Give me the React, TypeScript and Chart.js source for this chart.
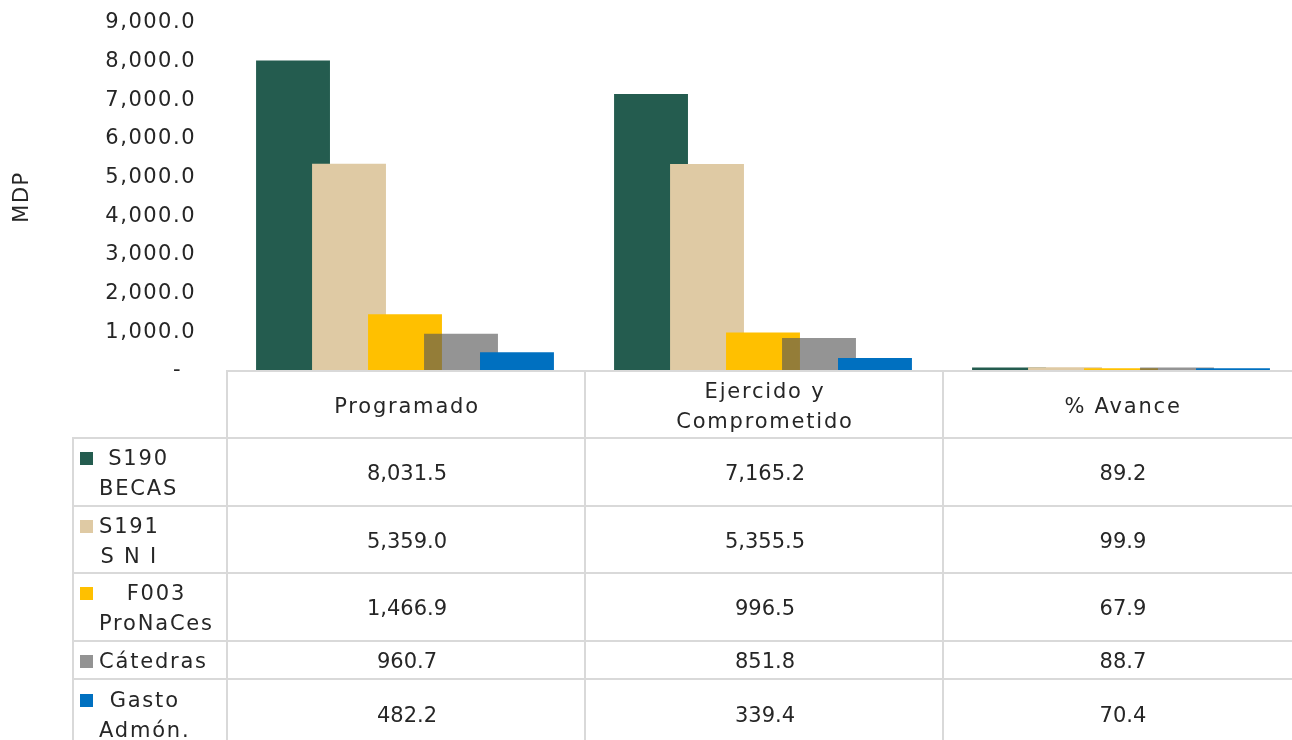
import React, { useEffect, useRef } from "react";
import { Chart, registerables } from "chart.js";

Chart.register(...registerables);

// ---------- data ----------
const categories = ["Programado", "Ejercido y\nComprometido", "% Avance"];
const seriesNames = ["S190\nBECAS", "S191\nS N I", "F003\nProNaCes", "Cátedras", "Gasto\nAdmón."];
const becas = [8031.5, 7165.2, 89.2];
const sni = [5359.0, 5355.5, 99.9];
const pronaces = [1466.9, 996.5, 67.9];
const catedras = [960.7, 851.8, 88.7];
const gasto = [482.2, 339.4, 70.4];
const yMin = 0;
const yMax = 9000;
const yStep = 1000;
const yAxisTitle = "MDP";

// ---------- styles ----------
const seriesValues = [becas, sni, pronaces, catedras, gasto];
const barColors = ["#245C4F", "#DFCAA4", "#FFC000", "rgba(87,87,87,0.64)", "#0070C0"];
const markerColors = ["#245C4F", "#DFCAA4", "#FFC000", "#939393", "#0070C0"];
const FONT = "'DejaVu Sans', sans-serif";
const TEXT_COLOR = "#262626";
const LINE_COLOR = "#D9D9D9";

const PLOT_LEFT = 226;
const CAT_W = 358;
const CANVAS_W = PLOT_LEFT + CAT_W * 3;
const CANVAS_H = 384;
const TABLE_TOP = 370;
const LEGEND_LEFT = 72;
const HEADER_H = 67;
const ROW_H = [68, 67, 68, 38, 70];

const fmt = (v: number) =>
  v.toLocaleString("en-US", { minimumFractionDigits: 1, maximumFractionDigits: 1 });

const drawOrderPlugin = {
  id: "drawOrder",
  beforeDraw(chart: any) {
    chart.ctx.letterSpacing = "1.5px";
  },
  beforeDatasetsDraw(chart: any) {
    for (let i = 0; i < chart.data.datasets.length; i++) {
      const meta = chart.getDatasetMeta(i);
      if (meta.visible !== false) meta.controller.draw();
    }
    return false;
  },
};

function BarChart() {
  const ref = useRef<HTMLCanvasElement | null>(null);
  useEffect(() => {
    if (!ref.current) return;
    const chart = new Chart(ref.current, {
      type: "bar",
      data: {
        labels: categories,
        datasets: seriesValues.map((vals, i) => ({
          label: seriesNames[i].replace("\n", " "),
          data: vals,
          backgroundColor: barColors[i],
          borderWidth: 0,
          barPercentage: 1.32,
          categoryPercentage: 0.782,
        })),
      },
      options: {
        responsive: false,
        maintainAspectRatio: false,
        animation: false,
        events: [],
        layout: { padding: { top: 23, bottom: 13, left: 0, right: 0 } },
        plugins: { legend: { display: false }, tooltip: { enabled: false } },
        scales: {
          x: { display: false, offset: true },
          y: {
            min: yMin,
            max: yMax,
            grid: { display: false, drawTicks: true, tickLength: 30 },
            border: { display: false },
            ticks: {
              stepSize: yStep,
              padding: 0,
              color: TEXT_COLOR,
              font: { family: FONT, size: 21 },
              callback: (v: any) => (Number(v) === 0 ? "- \u2009" : fmt(Number(v))),
            },
            title: {
              display: true,
              text: yAxisTitle,
              color: TEXT_COLOR,
              font: { family: FONT, size: 21 },
              padding: { top: 10, bottom: 0 },
            },
            afterFit: (s: any) => {
              s.width = PLOT_LEFT;
            },
          },
        },
      },
      plugins: [drawOrderPlugin],
    });
    return () => chart.destroy();
  }, []);
  return (
    <canvas
      ref={ref}
      width={CANVAS_W}
      height={CANVAS_H}
      style={{ position: "absolute", left: 0, top: 0, width: CANVAS_W, height: CANVAS_H }}
    />
  );
}

const cellBase: React.CSSProperties = {
  position: "absolute",
  boxSizing: "border-box",
  borderTop: `2px solid ${LINE_COLOR}`,
  borderLeft: `2px solid ${LINE_COLOR}`,
  display: "flex",
  alignItems: "center",
  justifyContent: "center",
  textAlign: "center",
  whiteSpace: "pre-line",
  lineHeight: "30px",
  fontFamily: FONT,
  fontSize: 21,
  color: TEXT_COLOR,
};
const WORD_SPACING = "1.8px";

function DataTable() {
  const cells: React.ReactNode[] = [];
  categories.forEach((c, i) => {
    cells.push(
      <div
        key={"h" + i}
        style={{
          ...cellBase,
          left: PLOT_LEFT + i * CAT_W,
          top: TABLE_TOP,
          width: CAT_W + 2,
          height: HEADER_H + 2,
          letterSpacing: WORD_SPACING,
        }}
      >
        {c}
      </div>
    );
  });
  let top = TABLE_TOP + HEADER_H;
  seriesNames.forEach((name, r) => {
    const h = ROW_H[r];
    const lines = name.split("\n");
    cells.push(
      <div
        key={"l" + r}
        style={{
          ...cellBase,
          left: LEGEND_LEFT,
          top,
          width: PLOT_LEFT - LEGEND_LEFT + 2,
          height: h + 2,
          justifyContent: "flex-start",
          paddingLeft: 6,
          letterSpacing: WORD_SPACING,
        }}
      >
        <div style={{ display: "flex", alignItems: "flex-start" }}>
          <span
            style={{
              display: "inline-block",
              width: 13,
              height: 13,
              marginTop: 9,
              marginRight: 6,
              background: markerColors[r],
              flex: "none",
            }}
          />
          <span style={{ display: "inline-block", textAlign: "center", whiteSpace: "pre" }}>
            {lines.map((ln, k) => (
              <div key={k}>{ln}</div>
            ))}
          </span>
        </div>
      </div>
    );
    seriesValues[r].forEach((v, i) => {
      cells.push(
        <div
          key={"c" + r + "-" + i}
          style={{ ...cellBase, left: PLOT_LEFT + i * CAT_W, top, width: CAT_W + 2, height: h + 2 }}
        >
          {fmt(v)}
        </div>
      );
    });
    top += h;
  });
  return <>{cells}</>;
}

export default function App() {
  useEffect(() => {
    document.body.style.margin = "0";
    document.body.style.overflow = "hidden";
    document.body.style.background = "#ffffff";
  }, []);
  return (
    <div style={{ position: "relative", width: 1292, height: 740, overflow: "hidden", background: "#fff" }}>
      <BarChart />
      <DataTable />
    </div>
  );
}
